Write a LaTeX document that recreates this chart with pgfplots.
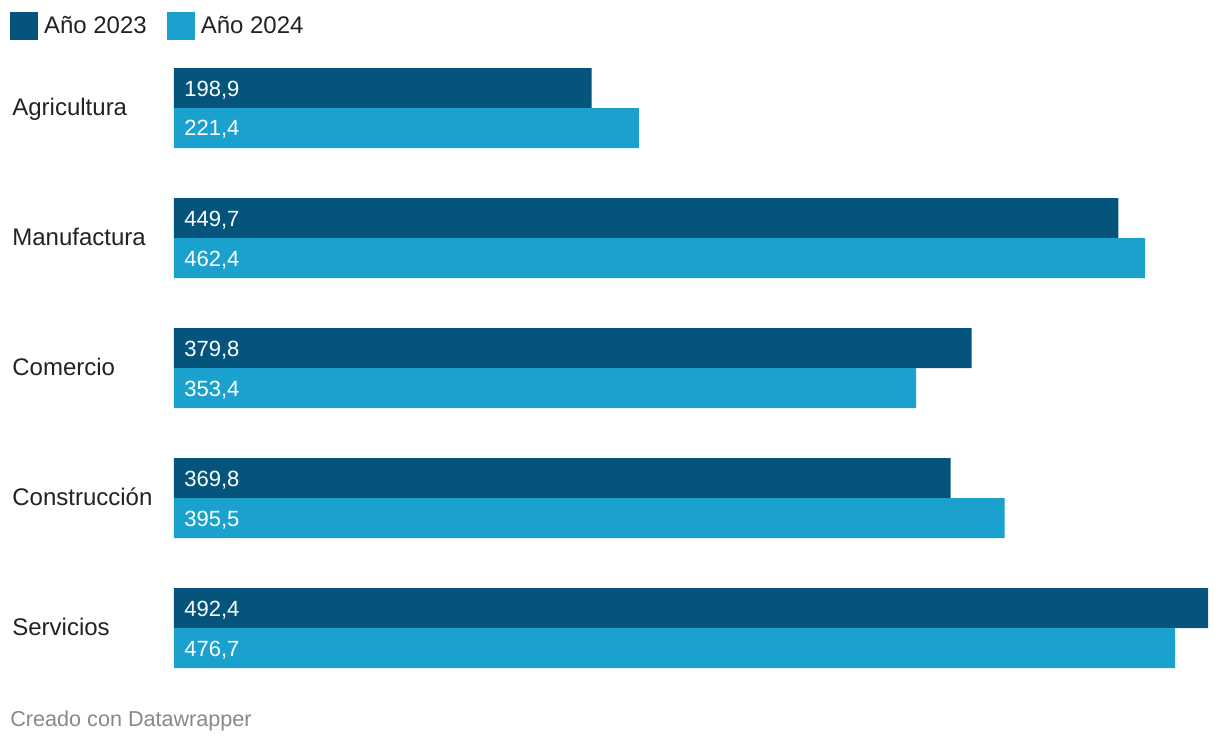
\documentclass[border=0pt]{standalone}
\usepackage{fontspec}
\setmainfont{Liberation Sans}
\usepackage{pgfplots}
\pgfplotsset{compat=1.18}
\definecolor{dark}{RGB}{4,84,124}
\definecolor{light}{RGB}{26,161,206}
\definecolor{txt}{RGB}{34,34,34}
\definecolor{foot}{RGB}{136,136,136}
\begin{document}
\begin{tikzpicture}
\begin{axis}[
  scale only axis,
  width=517pt, height=300pt,
  xmin=0, xmax=492.4,
  ymin=-0.3077, ymax=4.3077,
  axis line style={draw=none},
  tick style={draw=none},
  xtick=\empty,
  ytick={0,1,2,3,4},
  yticklabels={Servicios,Construcción,Comercio,Manufactura,Agricultura},
  yticklabel style={anchor=base west, xshift=-81pt, yshift=-3.6pt, inner sep=0pt, text=txt, font=\fontsize{12}{14}\selectfont},
  /pgf/number format/use comma,
  /pgf/number format/fixed,
  /pgf/number format/fixed zerofill,
  /pgf/number format/precision=1,
  /pgf/number format/assume math mode=true,
  legend style={at={(axis description cs:-0.1586,1.0933)}, anchor=north west,
    draw=none, fill=none, inner sep=0pt, outer sep=0pt,
    legend columns=2, font=\fontsize{12}{14}\selectfont,
    nodes={inner sep=0pt, text=txt, anchor=west},
    /tikz/every even column/.append style={column sep=10pt}},
  legend cell align=left,
]
\addplot[xbar, bar width=20pt, bar shift=10pt, fill=dark, draw=none,
  legend image code/.code={\fill[dark] (0pt,-7pt) rectangle (14pt,7pt); \path (17pt,0pt);}]
  coordinates {(198.9,4) (449.7,3) (379.8,2) (369.8,1) (492.4,0)};
\addlegendentry{Año 2023}
\addplot[xbar, bar width=20pt, bar shift=-10pt, fill=light, draw=none,
  legend image code/.code={\fill[light] (0pt,-7pt) rectangle (14pt,7pt); \path (17pt,0pt);}]
  coordinates {(221.4,4) (462.4,3) (353.4,2) (395.5,1) (476.7,0)};
\addlegendentry{Año 2024}
\addplot[draw=none, mark=none, forget plot, nodes near coords, point meta=explicit,
  every node near coord/.append style={anchor=base west, text=white, inner sep=0pt, xshift=5pt, yshift=-4pt, font=\fontsize{11}{13}\selectfont}]
  coordinates {(0,4.1538) [198.9] (0,3.1538) [449.7] (0,2.1538) [379.8] (0,1.1538) [369.8] (0,0.1538) [492.4]
               (0,3.8462) [221.4] (0,2.8462) [462.4] (0,1.8462) [353.4] (0,0.8462) [395.5] (0,-0.1538) [476.7]};
\end{axis}
\node[anchor=base west, inner sep=0pt, text=foot, font=\fontsize{10.8}{13}\selectfont] at (-82pt,-29pt) {Creado con Datawrapper};
\pgfresetboundingbox
\path[use as bounding box] (-87pt,-39pt) rectangle (523pt,334pt);
\end{tikzpicture}
\end{document}
